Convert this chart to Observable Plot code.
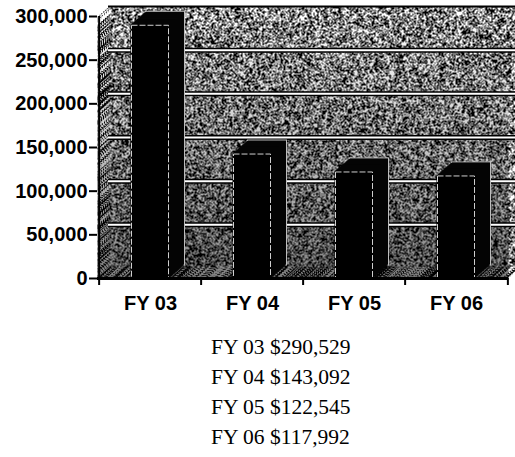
<!DOCTYPE html>
<html>
<head>
<meta charset="utf-8">
<script src="https://cdn.jsdelivr.net/npm/d3@7"></script>
<script src="https://cdn.jsdelivr.net/npm/@observablehq/plot@0.6"></script>
<style>
  html, body { margin: 0; padding: 0; background: #fff; }
  #chart svg { display: block; }
  #caption {
    font-family: "Liberation Serif", "Times New Roman", serif;
    font-size: 21.5px; line-height: 30px; color: #000;
    margin: 17px 0 0 211px;
  }
</style>
</head>
<body>
<svg width="0" height="0" style="position:absolute">
  <defs>
    <filter id="grain" x="0" y="0" width="1" height="1" color-interpolation-filters="sRGB">
      <feTurbulence type="fractalNoise" baseFrequency="0.22 0.16" numOctaves="3" seed="11" result="n"/>
      <feColorMatrix in="n" type="matrix" values="0 0 0 0 0  0 0 0 0 0  0 0 0 0 0  1 0 0 0 0" result="a0"/>
      <feComponentTransfer in="a0" result="a">
        <feFuncA type="discrete" tableValues="1 1 1 1 1 1 1 0 1 0 0 1 0 1 0 1 1 0 1 1 1 1 1 1"/>
      </feComponentTransfer>
      <feComposite in="a" in2="SourceGraphic" operator="in" result="c"/>
      <feMerge><feMergeNode in="SourceGraphic"/><feMergeNode in="c"/></feMerge>
    </filter>
    <pattern id="tex" patternUnits="userSpaceOnUse" x="0" y="0" width="540" height="340">
      <rect width="540" height="340" fill="#fff" filter="url(#grain)"/>
    </pattern>
    <linearGradient id="shade" x1="0" y1="0" x2="0" y2="1">
      <stop offset="0" stop-color="#000" stop-opacity="0"/>
      <stop offset="0.45" stop-color="#000" stop-opacity="0.2"/>
      <stop offset="1" stop-color="#000" stop-opacity="0.5"/>
    </linearGradient>
  </defs>
</svg>
<div id="chart"></div>
<div id="caption"></div>
<script>
const categories = ["FY 03", "FY 04", "FY 05", "FY 06"];
const values = [290529, 143092, 122545, 117992];
const yTicks = [0, 50000, 100000, 150000, 200000, 250000, 300000];
const gridTicks = [50000, 100000, 150000, 200000, 250000];

const data = categories.map((c, i) => ({cat: c, value: values[i]}));

const W = 515, H = 315, mL = 97, mR = 7;
const bw = (W - mL - mR) / categories.length;
const wallDx = 11, wallDy = -10;
const barDx = 15, barDy = -13;
const barInset = 31.5;

const marks = [];
// 3D walls (textured), swept for depth
const wallSteps = 6;
for (let k = 0; k <= wallSteps; k++) {
  marks.push(Plot.frame({fill: "url(#tex)", stroke: null, dx: wallDx * k / wallSteps, dy: wallDy * k / wallSteps}));
}
marks.push(Plot.frame({fill: "url(#shade)", stroke: null}));
// back-wall gridlines
marks.push(Plot.ruleY(gridTicks, {stroke: "#000", strokeWidth: 5, dx: wallDx, dy: wallDy}));
marks.push(Plot.ruleY(gridTicks, {stroke: "#fff", strokeWidth: 2, dx: wallDx, dy: wallDy}));
marks.push(Plot.ruleY([300000], {stroke: "#000", strokeWidth: 2, dx: wallDx, dy: wallDy}));
// 3D bars: extruded body
const barSteps = 15;
for (let k = barSteps; k >= 0; k--) {
  marks.push(Plot.barY(data, {
    x: "cat", y: "value", fill: "#050505",
    stroke: k === barSteps ? "#bdbdbd" : null, strokeWidth: 1,
    insetLeft: barInset, insetRight: barInset,
    dx: barDx * k / barSteps, dy: barDy * k / barSteps
  }));
}
// front face
marks.push(Plot.barY(data, {
  x: "cat", y: "value", fill: "#000", stroke: "#cfcfcf", strokeWidth: 1, strokeDasharray: "6 2",
  insetLeft: barInset + 1, insetRight: barInset + 1, insetTop: 1
}));
// axes lines
marks.push(Plot.ruleY([0], {stroke: "#000", strokeWidth: 3}));
marks.push(Plot.ruleX([categories[0]], {x: d => d, y1: 0, y2: 300000, dx: -bw / 2, stroke: "#000", strokeWidth: 2}));
marks.push(Plot.ruleX(categories, {x: d => d, y1: 0, y2: 0, insetBottom: -7, dx: -bw / 2, stroke: "#000", strokeWidth: 2}));
marks.push(Plot.ruleX([categories[categories.length - 1]], {x: d => d, y1: 0, y2: 0, insetBottom: -7, dx: bw / 2, stroke: "#000", strokeWidth: 2}));
marks.push(Plot.axisY({ticks: yTicks, tickSize: 8, tickPadding: 2, strokeWidth: 2, tickFormat: d3.format(","), label: null}));
marks.push(Plot.axisX({tickSize: 0, tickPadding: 17, label: null}));

const chart = Plot.plot({
  width: W, height: H,
  marginLeft: mL, marginRight: mR, marginTop: 16, marginBottom: 37,
  x: {domain: categories, padding: 0, label: null},
  y: {domain: [0, 300000], label: null},
  style: {fontFamily: "'Liberation Sans', Arial, sans-serif", fontSize: "20px", fontWeight: "bold", color: "#000", background: "transparent"},
  marks
});
document.getElementById("chart").appendChild(chart);

const fmt = d3.format(",");
document.getElementById("caption").innerHTML =
  categories.map((c, i) => `${c} $${fmt(values[i])}`).join("<br>");
</script>
</body>
</html>
